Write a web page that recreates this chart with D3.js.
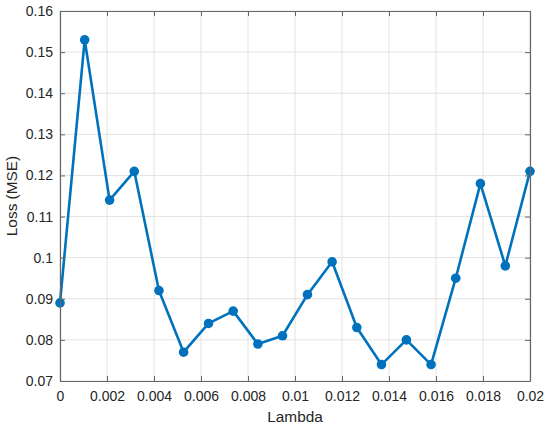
<!DOCTYPE html>
<html>
<head>
<meta charset="utf-8">
<script src="https://cdn.jsdelivr.net/npm/d3@7"></script>
<style>
body{margin:0;background:#fff;}
text{font-family:"Liberation Sans",Arial,sans-serif;fill:#262626;}
</style>
</head>
<body>
<svg id="chart" width="550" height="433"></svg>
<script>
// lambda values (linspace 0..0.02, 20 pts)
const lambdas = [0,0.00105,0.00211,0.00316,0.00421,0.00526,0.00632,0.00737,0.00842,0.00947,
                 0.01053,0.01158,0.01263,0.01368,0.01474,0.01579,0.01684,0.01789,0.01895,0.02];
const loss = [0.089,0.153,0.114,0.121,0.092,0.077,0.084,0.087,0.079,0.081,
              0.091,0.099,0.083,0.074,0.080,0.074,0.095,0.118,0.098,0.121];
const xTicks = [0,0.002,0.004,0.006,0.008,0.01,0.012,0.014,0.016,0.018,0.02];
const yTicks = [0.07,0.08,0.09,0.1,0.11,0.12,0.13,0.14,0.15,0.16];

const m = {l:60, t:11, r:20, b:52};
const W = 550, H = 433;
const svg = d3.select("#chart");

const x = d3.scaleLinear().domain([0,0.02]).range([m.l, W-m.r]);
const y = d3.scaleLinear().domain([0.07,0.16]).range([H-m.b, m.t]);

const g = svg.append("g");

// grid
g.selectAll(".gx").data(xTicks).enter().append("line")
  .attr("x1",d=>x(d)).attr("x2",d=>x(d)).attr("y1",y(0.07)).attr("y2",y(0.16))
  .attr("stroke","#e3e3e3").attr("stroke-width",1);
g.selectAll(".gy").data(yTicks).enter().append("line")
  .attr("y1",d=>y(d)).attr("y2",d=>y(d)).attr("x1",x(0)).attr("x2",x(0.02))
  .attr("stroke","#e3e3e3").attr("stroke-width",1);

const fmt = d => String(+d.toFixed(4));

// axes (box with inward ticks on all sides)
const xa = svg.append("g").attr("transform",`translate(0,${y(0.07)})`)
  .call(d3.axisBottom(x).tickValues(xTicks).tickFormat(fmt).tickSizeInner(-5).tickSizeOuter(0).tickPadding(10));
const xt = svg.append("g").attr("transform",`translate(0,${y(0.16)})`)
  .call(d3.axisTop(x).tickValues(xTicks).tickFormat("").tickSizeInner(-5).tickSizeOuter(0));
const ya = svg.append("g").attr("transform",`translate(${x(0)},0)`)
  .call(d3.axisLeft(y).tickValues(yTicks).tickFormat(fmt).tickSizeInner(-5).tickSizeOuter(0).tickPadding(7));
const yr = svg.append("g").attr("transform",`translate(${x(0.02)},0)`)
  .call(d3.axisRight(y).tickValues(yTicks).tickFormat("").tickSizeInner(-5).tickSizeOuter(0));

[xa,xt,ya,yr].forEach(a=>{
  a.select(".domain").attr("stroke","#666").attr("stroke-width",1.2);
  a.selectAll(".tick line").attr("stroke","#666");
  a.selectAll("text").attr("font-size","14px").attr("font-family","Liberation Sans, Arial, sans-serif").attr("fill","#262626");
});

// line + markers
const line = d3.line().x((d,i)=>x(lambdas[i])).y(d=>y(d));
g.append("path").datum(loss).attr("d",line)
  .attr("fill","none").attr("stroke","#0072BD").attr("stroke-width",2.6).attr("stroke-linejoin","round");
g.selectAll(".pt").data(loss).enter().append("circle")
  .attr("cx",(d,i)=>x(lambdas[i])).attr("cy",d=>y(d)).attr("r",4.8).attr("fill","#0072BD");

// labels
svg.append("text").attr("x",(x(0)+x(0.02))/2).attr("y",422).attr("text-anchor","middle")
  .attr("font-size","15.4px").text("Lambda");
svg.append("text").attr("transform",`translate(17,${(y(0.07)+y(0.16))/2}) rotate(-90)`)
  .attr("text-anchor","middle").attr("font-size","15.4px").text("Loss (MSE)");
</script>
</body>
</html>
